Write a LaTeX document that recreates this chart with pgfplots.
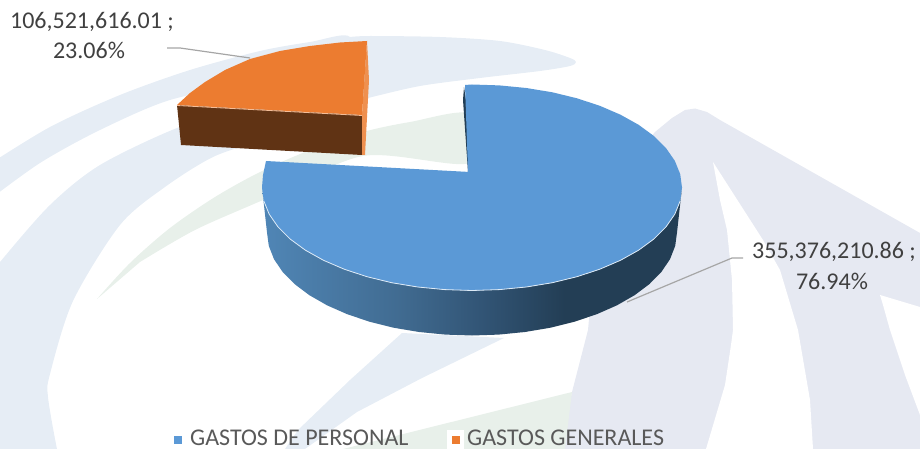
\documentclass[border=0pt]{standalone}
\usepackage{pgfplots}
\usepackage{fontspec}
\setmainfont{Carlito}
\pgfplotsset{compat=1.18}
\definecolor{palea}{HTML}{E6EDF5}
\definecolor{paleb}{HTML}{E6E9F2}
\definecolor{paleg}{HTML}{E8F0EA}
\definecolor{pblue}{HTML}{5B99D6}
\definecolor{porange}{HTML}{EC7C30}
\definecolor{pbrown}{HTML}{603314}
\definecolor{lblt}{HTML}{404040}
\definecolor{legt}{HTML}{595959}
\definecolor{leader}{HTML}{A6A6A6}
\definecolor{sa}{HTML}{5086B6}
\definecolor{sb}{HTML}{416C92}
\definecolor{sc}{HTML}{325576}
\definecolor{sd}{HTML}{233E55}
\pgfdeclarehorizontalshading{sidegrad}{100bp}{color(0bp)=(sa); color(25bp)=(sa); color(41bp)=(sb); color(51bp)=(sc); color(61bp)=(sd); color(100bp)=(sd)}
\begin{document}
\begin{tikzpicture}
\begin{axis}[
  scale only axis, width=920pt, height=449pt,
  xmin=0, xmax=920, ymin=0, ymax=449, y dir=reverse,
  hide axis, axis on top=false]
\path (axis cs:0,0) rectangle (axis cs:920,449);
% watermark
\addplot[fill=paleb,draw=none] coordinates {(655,132)(672,118)(685,110)(695,108.5)(707,112)(720,120)(920,233)(930,449)(560,449)(572,392)(588,330)(600,200)};
\addplot[fill=white,draw=none] coordinates {(713,162)(720,200)(727,230)(732,280)(733,330)(731,345)(725,385)(706,449)(813,449)(810,400)(798,330)(780,270)(763,240)};
\addplot[fill=white,draw=none] coordinates {(880,295)(930,310)(930,440)(920,415)(905,375)(890,330)(883,305)};
\addplot[fill=paleg,draw=none] coordinates {(572,392)(343,449)(565,449)};
\addplot[fill=palea,draw=none] coordinates {(402,333)(350,380)(298,430)(285,449)(305,449)(357,412)(422,378)(504,338)};
\addplot[fill=palea,draw=none,smooth] coordinates {(-15,167)(50,127)(120,95)(190,70)(260,51)(310,42)(350,37)(340,80)(250,85)(170,100)(100,130)(40,163)(-15,203)};
\addplot[fill=palea,draw=none,smooth] coordinates {(350,37)(370,36)(440,37)(500,41)(545,50)(570,58)(576,62)(570,66)(540,71)(480,78)(420,86)(368,98)(340,105)};
\addplot[fill=palea,draw=none,smooth] coordinates {(-30,300)(0,262)(50,205)(100,165)(177,128)(240,110)(300,125)(262,140)(213,157)(165,187)(120,225)(73,301)(50,374)(48,397)(57,449)(62,465)(-30,465)};
\addplot[fill=paleg,draw=none,smooth,tension=0.5] coordinates {(97,299)(130,263)(170,228)(215,197)(260,172)(310,150)(363,132)(410,122)(470,114)(470,163)(363,156)(263,200)(195,230)(140,262)};
% orange slice
\addplot[fill=pbrown,draw=none] coordinates {(177,105)(362,115)(362,155)(181,145)};
\addplot[fill=porange!85!white,draw=none] coordinates {(367,41)(369,80)(365,155)(362,155)(362,115)};
\addplot[fill=porange,draw=none] coordinates {(367,41)(340,42.5)(310,46)(280,51)(250,59)(225,70)(205,82)(190,93)(177,105)(362,115)};
\addplot[draw=porange!50!white,line width=0.8pt] coordinates {(177,105.5)(362,115.5)};
% blue slice
\addplot[shading=sidegrad,draw=none] coordinates {(262,187.5)(263.8,200.9)(269.2,214.2)(278,226.9)(290.1,239)(305.4,250.2)(323.5,260.3)(344.2,269.2)(367,276.7)(391.6,282.7)(417.7,287)(444.6,289.6)(472,290.5)(499.4,289.6)(526.3,287)(552.4,282.7)(577,276.7)(599.8,269.2)(620.5,260.3)(638.6,250.2)(653.9,239)(666,226.9)(674.8,214.2)(680.2,200.9)(682,187.5)
(677,232.5)(675.2,245.9)(670,259.2)(661.4,271.9)(649.5,284)(634.6,295.2)(617,305.3)(596.8,314.2)(574.5,321.7)(550.5,327.7)(525,332)(498.7,334.6)(472,335.5)(445.3,334.6)(419,332)(393.5,327.7)(369.5,321.7)(347.2,314.2)(327,305.3)(309.4,295.2)(294.5,284)(282.6,271.9)(274,259.2)(268.8,245.9)(267,232.5)};
\addplot[fill=sd,draw=none] coordinates {(464,87)(463,100)(468,172)(472,172)(466,100)};
\addplot[fill=pblue,draw=none] coordinates {(465,85)(472,84.5)(499.4,85.4)(526.3,88)(552.4,92.3)(577,98.3)(599.8,105.8)(620.5,114.7)(638.6,124.8)(653.9,136)(666,148.1)(674.8,160.8)(680.2,174.1)(682,187.5)(680.2,200.9)(674.8,214.2)(666,226.9)(653.9,239)(638.6,250.2)(620.5,260.3)(599.8,269.2)(577,276.7)(552.4,282.7)(526.3,287)(499.4,289.6)(472,290.5)(444.6,289.6)(417.7,287)(391.6,282.7)(367,276.7)(344.2,269.2)(323.5,260.3)(305.4,250.2)(290.1,239)(278,226.9)(269.2,214.2)(263.8,200.9)(262,187.5)(263,175)(266,161)(470,172)(468,172)};
\addplot[draw=white!80!pblue,line width=0.8pt] coordinates {(263.8,200.9)(269.2,214.2)(278,226.9)(290.1,239)(305.4,250.2)(323.5,260.3)(344.2,269.2)(367,276.7)(391.6,282.7)(417.7,287)(444.6,289.6)(472,290.5)(499.4,289.6)(526.3,287)(552.4,282.7)(577,276.7)(599.8,269.2)(620.5,260.3)(638.6,250.2)(653.9,239)(666,226.9)(674.8,214.2)(680.2,200.9)};
% leaders
\addplot[draw=leader,line width=1.2pt] coordinates {(167,48)(180,48)(250,58)};
\addplot[draw=leader,line width=1.2pt] coordinates {(743,258)(732,258)(627,302)};
% legend
\addplot[fill=white,draw=none] coordinates {(447,430)(464,430)(464,449)(447,449)};
\addplot[fill=pblue,draw=none] coordinates {(174,436)(181.5,436)(181.5,444)(174,444)};
\addplot[fill=porange,draw=none] coordinates {(452,436)(459.5,436)(459.5,444)(452,444)};
% text
\node[text=lblt,font=\fontsize{24}{28}\selectfont,inner sep=0pt] at (axis cs:92,22) {106,521,616.01 ;};
\node[text=lblt,font=\fontsize{24}{28}\selectfont,inner sep=0pt] at (axis cs:89,50) {23.06\%};
\node[text=lblt,font=\fontsize{24}{28}\selectfont,inner sep=0pt] at (axis cs:834,252) {355,376,210.86 ;};
\node[text=lblt,font=\fontsize{24}{28}\selectfont,inner sep=0pt] at (axis cs:832,281) {76.94\%};
\node[text=legt,font=\fontsize{24}{26}\selectfont,inner sep=0pt,anchor=west] at (axis cs:190,438) {GASTOS DE PERSONAL};
\node[text=legt,font=\fontsize{24}{26}\selectfont,inner sep=0pt,anchor=west] at (axis cs:467,438) {GASTOS GENERALES};
\end{axis}
\end{tikzpicture}
\end{document}
